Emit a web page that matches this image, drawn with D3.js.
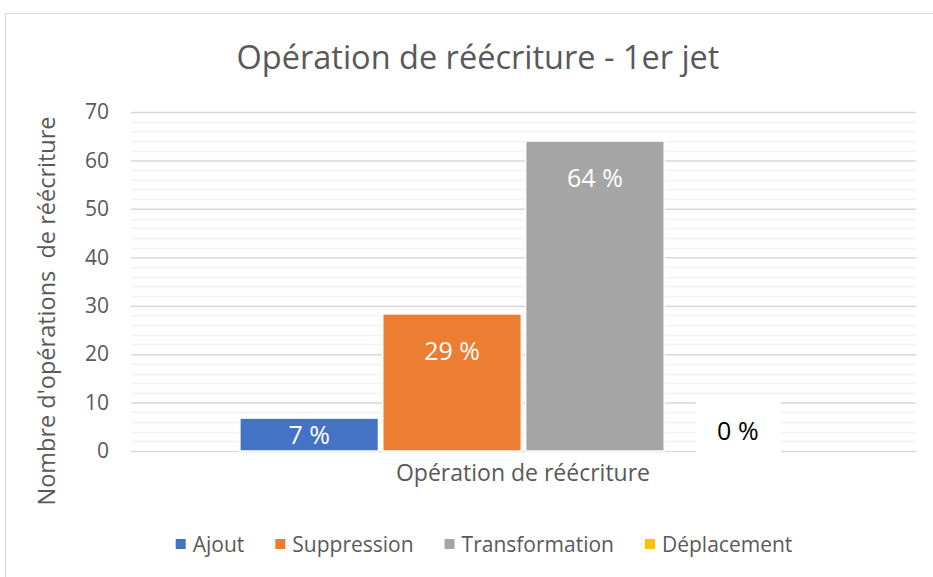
<!DOCTYPE html>
<html>
<head>
<meta charset="utf-8">
<script src="https://cdn.jsdelivr.net/npm/d3@7"></script>
<style>
  body { margin: 0; background: #fff; }
  text { font-family: "Open Sans", sans-serif; }
</style>
</head>
<body>
<svg></svg>
<script>
var svgWidth = 933;
var svgHeight = 577;

// data
var category = ["Opération de réécriture"];
var series = ["Ajout", "Suppression", "Transformation", "Déplacement"];
var values = [6.8, 28.3, 64.0, 0];
var labels = ["7 %", "29 %", "64 %", "0 %"];
var colors = ["#4472C4", "#ED7D31", "#A5A5A5", "#FFC000"];
var yTicks = [0, 10, 20, 30, 40, 50, 60, 70];

var margin = { left: 131, right: 17, top: 112, bottom: 126 };
var plotW = svgWidth - margin.left - margin.right;
var plotH = svgHeight - margin.top - margin.bottom;

var svg = d3.select("svg")
  .attr("width", svgWidth)
  .attr("height", svgHeight);

// chart frame
svg.append("rect")
  .attr("x", 5.5).attr("y", 13.5)
  .attr("width", svgWidth).attr("height", svgHeight)
  .attr("fill", "none")
  .attr("stroke", "#d9d9d9");

svg.append("text")
  .attr("x", 478).attr("y", 69)
  .attr("text-anchor", "middle")
  .attr("font-size", 32.5)
  .attr("fill", "#595959")
  .text("Opération de réécriture - 1er jet");

var g = svg.append("g")
  .attr("transform", "translate(" + margin.left + "," + margin.top + ")");

var y = d3.scaleLinear().domain([0, 70]).range([plotH, 0]);

var x0 = d3.scaleBand().domain(category).range([0, plotW])
  .paddingInner(0.161).paddingOuter(0.161);
var x1 = d3.scaleBand().domain(series).range([0, x0.bandwidth()])
  .paddingInner(0.03);

// minor gridlines
g.append("g").selectAll("line")
  .data(d3.range(0, 71, 2).filter(function(d) { return d % 10 !== 0; }))
  .enter().append("line")
  .attr("x1", 0).attr("x2", plotW)
  .attr("y1", function(d) { return Math.round(y(d)) + 0.5; })
  .attr("y2", function(d) { return Math.round(y(d)) + 0.5; })
  .attr("stroke", "#f2f2f2")
  .attr("stroke-width", 1.5);

// major gridlines + tick labels
var yAxis = d3.axisLeft(y).tickValues(yTicks).tickSize(-plotW).tickPadding(22);
var ya = g.append("g").call(yAxis);
ya.select(".domain").remove();
ya.selectAll(".tick line").attr("stroke", "#d9d9d9").attr("stroke-width", 1.5);
ya.selectAll(".tick text")
  .attr("font-size", 21)
  .attr("fill", "#595959")
  .style("font-family", "'Open Sans', sans-serif");

var grp = g.selectAll(".grp")
  .data(category)
  .enter().append("g")
  .attr("transform", function(d) { return "translate(" + x0(d) + ",0)"; });

grp.selectAll("rect")
  .data(series)
  .enter().append("rect")
  .attr("x", function(d) { return x1(d); })
  .attr("width", x1.bandwidth())
  .attr("y", function(d, i) { return y(values[i]); })
  .attr("height", function(d, i) { return plotH - y(values[i]); })
  .attr("fill", function(d, i) { return colors[i]; })
  .attr("stroke", "#fff")
  .attr("stroke-width", 1.5);

// data labels
series.forEach(function(s, i) {
  var cx = x0(category[0]) + x1(s) + x1.bandwidth() / 2;
  var top = y(values[i]);
  if (values[i] === 0) {
    g.append("rect")
      .attr("x", cx - 42).attr("y", plotH - 50)
      .attr("width", 85).attr("height", 54)
      .attr("fill", "#fff");
    g.append("text")
      .attr("x", cx).attr("y", plotH - 11)
      .attr("text-anchor", "middle")
      .attr("font-size", 25)
      .attr("fill", "#000")
      .text(labels[i]);
  } else {
    var ty = Math.min(top + 46, (top + plotH) / 2 + 9);
    g.append("text")
      .attr("x", cx).attr("y", ty)
      .attr("text-anchor", "middle")
      .attr("font-size", 25)
      .attr("fill", "#fff")
      .text(labels[i]);
  }
});

// axis titles
svg.append("text")
  .attr("x", 523).attr("y", 481)
  .attr("text-anchor", "middle")
  .attr("font-size", 23)
  .attr("fill", "#595959")
  .text(category[0]);

svg.append("text")
  .attr("transform", "translate(55,311) rotate(-90)")
  .attr("text-anchor", "middle")
  .attr("font-size", 23.5)
  .attr("fill", "#595959")
  .style("white-space", "pre")
  .text("Nombre d'opérations  de réécriture");

// legend
var legend = svg.append("g").attr("transform", "translate(0,552)");
var items = legend.selectAll("g").data(series).enter().append("g");
items.append("rect")
  .attr("y", -13).attr("width", 10).attr("height", 10)
  .attr("fill", function(d, i) { return colors[i]; });
items.append("text")
  .attr("x", 17)
  .attr("font-size", 21)
  .attr("fill", "#595959")
  .text(function(d) { return d; });

var gap = 31;
var widths = [];
items.each(function() { widths.push(this.getBBox().width); });
var total = d3.sum(widths) + gap * (series.length - 1);
var xs = 484 - total / 2;
items.attr("transform", function(d, i) {
  var t = "translate(" + xs + ",0)";
  xs += widths[i] + gap;
  return t;
});
</script>
</body>
</html>
